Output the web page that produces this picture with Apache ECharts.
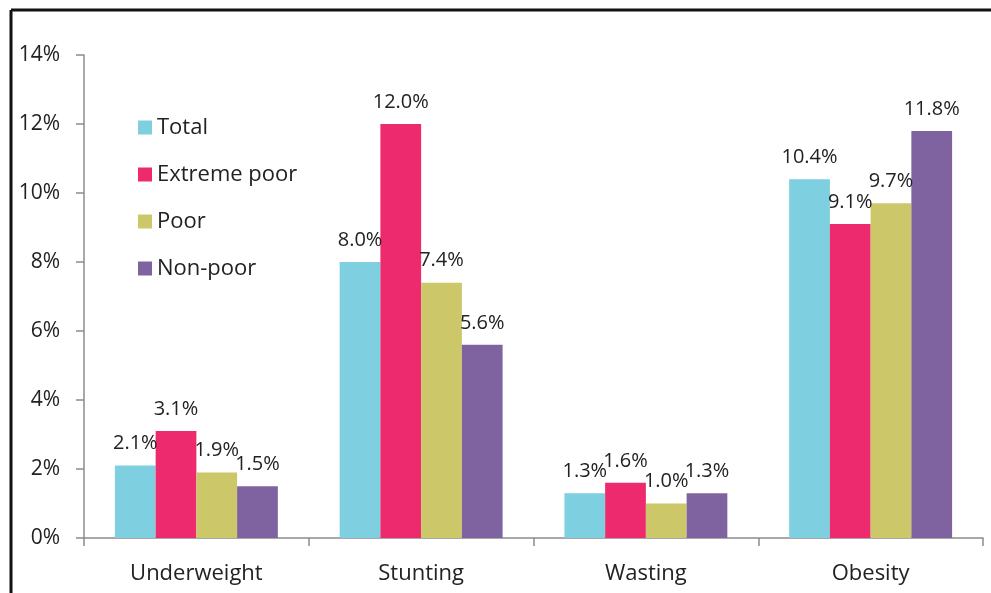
<!DOCTYPE html>
<html>
<head>
<meta charset="utf-8">
<script src="https://cdn.jsdelivr.net/npm/echarts@6/dist/echarts.min.js"></script>
<style>html,body{margin:0;padding:0;background:#fff}#c{width:991px;height:593px}</style>
</head>
<body>
<div id="c"></div>
<script>
var categories = ['Underweight', 'Stunting', 'Wasting', 'Obesity'];
var seriesNames = ['Total', 'Extreme poor', 'Poor', 'Non-poor'];
var totalVals = [2.1, 8.0, 1.3, 10.4];
var extremeVals = [3.1, 12.0, 1.6, 9.1];
var poorVals = [1.9, 7.4, 1.0, 9.7];
var nonPoorVals = [1.5, 5.6, 1.3, 11.8];
var yTicks = [0, 2, 4, 6, 8, 10, 12, 14];
var colors = ['#7ECFE0', '#EE2A6E', '#CCC86A', '#7F63A1'];
var FONT = 'Open Sans';

var allVals = [totalVals, extremeVals, poorVals, nonPoorVals];
var chart = echarts.init(document.getElementById('c'));
chart.setOption({
  animation: false,
  textStyle: { fontFamily: FONT },
  grid: { left: 84, top: 55, right: 8, bottom: 55 },
  legend: {
    orient: 'vertical', left: 133, top: 108,
    itemWidth: 14, itemHeight: 14, itemGap: 18,
    icon: 'rect',
    textStyle: { fontSize: 22, color: '#222', fontFamily: FONT, lineHeight: 29 },
    data: seriesNames
  },
  xAxis: {
    type: 'category', data: categories,
    axisLine: { lineStyle: { color: '#8c8c8c', width: 1.5 } },
    axisTick: { show: true, length: 8, lineStyle: { color: '#8c8c8c', width: 1.5 } },
    axisLabel: { fontSize: 22, color: '#222', margin: 25, fontFamily: FONT }
  },
  yAxis: {
    type: 'value', min: yTicks[0], max: yTicks[yTicks.length - 1], interval: 2,
    splitLine: { show: false },
    axisLine: { show: true, lineStyle: { color: '#8c8c8c', width: 1.5 } },
    axisTick: { show: true, length: 8, lineStyle: { color: '#8c8c8c', width: 1.5 } },
    axisLabel: { fontSize: 21, color: '#222', margin: 24, formatter: '{value}%', fontFamily: FONT }
  },
  series: seriesNames.map(function (n, i) {
    return {
      name: n, type: 'bar', data: allVals[i],
      barGap: '0%', barCategoryGap: '27.5%',
      itemStyle: { color: colors[i] },
      label: {
        show: true, position: 'top', distance: 12,
        fontSize: 20, color: '#222', fontFamily: FONT,
        formatter: function (p) { return p.value.toFixed(1) + '%'; }
      }
    };
  }),
  graphic: [
    { type: 'line', shape: { x1: 11, y1: 10, x2: 991, y2: 10 }, style: { stroke: '#111', lineWidth: 3 } },
    { type: 'line', shape: { x1: 11, y1: 10, x2: 11, y2: 593 }, style: { stroke: '#111', lineWidth: 3 } }
  ]
});
</script>
</body>
</html>
